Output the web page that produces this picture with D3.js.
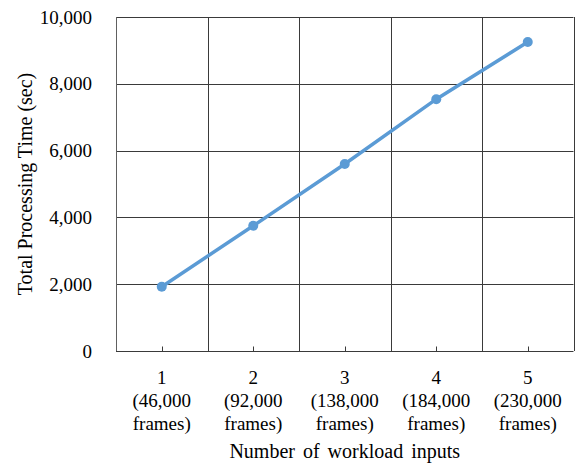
<!DOCTYPE html>
<html>
<head>
<meta charset="utf-8">
<script src="https://cdn.jsdelivr.net/npm/d3@7"></script>
<style>
  body { margin: 0; background: #fff; }
  svg text { font-family: "Liberation Serif", "Times New Roman", serif; fill: #000; }
</style>
</head>
<body>
<svg id="chart" width="576" height="464"></svg>
<script>
"use strict";

// chart data
const categories = ["1", "2", "3", "4", "5"];
const frameLabels = ["(46,000", "(92,000", "(138,000", "(184,000", "(230,000"];
const processingTime = [1925, 3750, 5600, 7540, 9250];
const yTicks = [0, 2000, 4000, 6000, 8000, 10000];

const svg = d3.select("#chart");
const margin = { top: 17, right: 2.5, bottom: 113, left: 116 };
const width = 576 - margin.left - margin.right,
  height = 464 - margin.top - margin.bottom;

const g = svg.append("g")
  .attr("transform", "translate(" + margin.left + "," + margin.top + ")");

let x = d3.scaleBand().domain(categories).range([0, width]);
let y = d3.scaleLinear().domain([0, 10000]).range([height, 0]);

// horizontal gridlines
g.append("g")
  .selectAll("line")
  .data(yTicks)
  .enter()
  .append("line")
  .attr("x1", 0)
  .attr("x2", width)
  .attr("y1", (d) => Math.round(y(d)) + 0.5)
  .attr("y2", (d) => Math.round(y(d)) + 0.5)
  .attr("stroke", "#3a3a3a")
  .attr("stroke-width", 1);

// vertical gridlines at category boundaries
let bounds = categories.map((c) => x(c)).concat([width]);
g.append("g")
  .selectAll("line")
  .data(bounds)
  .enter()
  .append("line")
  .attr("x1", (d) => Math.round(d) + 0.5)
  .attr("x2", (d) => Math.round(d) + 0.5)
  .attr("y1", 0)
  .attr("y2", height)
  .attr("stroke", (d, i) => (i === 0 ? "#606060" : "#3a3a3a"))
  .attr("stroke-width", 1);

// small inner ticks at category centers
g.append("g")
  .selectAll("line")
  .data(categories)
  .enter()
  .append("line")
  .attr("x1", (d) => Math.round(x(d) + x.bandwidth() / 2) + 0.5)
  .attr("x2", (d) => Math.round(x(d) + x.bandwidth() / 2) + 0.5)
  .attr("y1", height)
  .attr("y2", height - 4.5)
  .attr("stroke", "#3a3a3a");

// y tick labels
let yAxis = d3.axisLeft(y).tickValues(yTicks).tickSize(0).tickPadding(24)
  .tickFormat(d3.format(","));
let yAxisG = g.append("g").call(yAxis);
yAxisG.select(".domain").remove();
yAxisG.selectAll("text")
  .style("font-family", "Liberation Serif, serif")
  .attr("font-size", 19)
  .attr("fill", "#000");

// x tick labels (three lines)
let xLabels = g.append("g")
  .selectAll("text")
  .data(categories)
  .enter()
  .append("text")
  .attr("text-anchor", "middle")
  .attr("font-size", 19)
  .attr("transform", (d) => "translate(" + (x(d) + x.bandwidth() / 2) + "," + (height + 33) + ")");

xLabels.append("tspan").attr("x", 0).attr("y", 0).text((d) => d);
xLabels.append("tspan").attr("x", 0).attr("y", 23).text((d, i) => frameLabels[i]);
xLabels.append("tspan").attr("x", 0).attr("y", 46).text("frames)");

// axis titles
svg.append("text")
  .attr("x", margin.left + width / 2)
  .attr("y", 458)
  .attr("text-anchor", "middle")
  .attr("font-size", 20)
  .attr("word-spacing", 3)
  .text("Number of workload inputs");

svg.append("text")
  .attr("transform", "translate(32," + (margin.top + height / 2) + ") rotate(-90)")
  .attr("text-anchor", "middle")
  .attr("font-size", 20)
  .text("Total Processing Time (sec)");

// series line and markers
let line = d3.line()
  .x((d, i) => x(categories[i]) + x.bandwidth() / 2)
  .y((d) => y(d));

g.append("path")
  .datum(processingTime)
  .attr("fill", "none")
  .attr("stroke", "#5b9bd5")
  .attr("stroke-width", 3.5)
  .attr("stroke-linecap", "round")
  .attr("d", line);

g.selectAll(".dot")
  .data(processingTime)
  .enter()
  .append("circle")
  .attr("class", "dot")
  .attr("cx", (d, i) => x(categories[i]) + x.bandwidth() / 2)
  .attr("cy", (d) => y(d))
  .attr("r", 5)
  .attr("fill", "#5b9bd5");
</script>
</body>
</html>
